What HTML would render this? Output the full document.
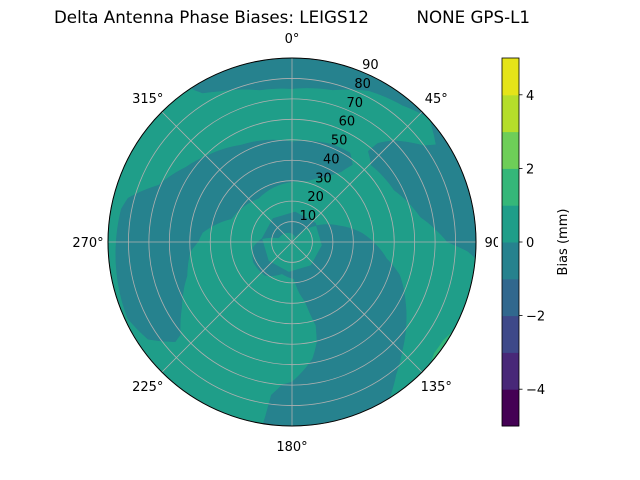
<!DOCTYPE html>
<html><head><meta charset="utf-8"><style>
body{margin:0;background:#fff;}
svg{display:block;font-family:"DejaVu Sans","Liberation Sans",sans-serif;}
</style></head><body>
<svg id="chart" width="640" height="480" viewBox="0 0 640 480" xmlns="http://www.w3.org/2000/svg">
<text x="292" y="23" font-size="16.7" text-anchor="middle" xml:space="preserve">Delta Antenna Phase Biases: LEIGS12         NONE GPS-L1</text>
<g id="plot"></g>
<g id="cbar"></g>
</svg>
<script>
const levels = [-5,-4,-3,-2,-1,0,1,2,3,4,5];
const levelColors = ["#440154","#482878","#3e4989","#31688e","#26828e","#1f9e89","#35b779","#6ece58","#b5de2b","#e5e419"];
const cbarTicks = [-4,-2,0,2,4];
const radialTicks = [10,20,30,40,50,60,70,80,90];
const angleTicks = [0,45,90,135,180,225,270,315];
const baseValue = 0.5;
// contour regions: [azimuth deg, radius] boundary points, with their bias value
const regionValues = [-0.5, -0.5, -0.5, -0.5, 1.5];
const regionTopBand = [[-33,90],[-33,89],[-31,85],[-26,82],[-12,76],[0,75],[15,77],[27,83],[39,86],[46,89.5],[47,90]];
const regionNE = [[49,90],[95,90],[93,86],[90,76],[79,64],[63,56],[46,54],[40,58],[41,64],[45,70],[54,80],[56,85],[50,89]];
const regionArcWest = [[35,42],[38,48],[33,52],[22,51.5],[0,49],[-28,53.6],[-44,59],[-55,63.6],[-67,71],[-75,83],[-79,85],[-90,86],[-109,88],[-115,88.6],[-124,85],[-130.5,75],[-129.7,71],[-121,63],[-108,54],[-95.5,50],[-90,46],[-84,44],[-69,31.7],[-37.6,26.9],[0,29.5],[15,31],[28,36]];
const regionCenterSouth = [[-84,14.8],[-73,6.8],[34,3],[55.6,13.9],[71,24.3],[83,34.7],[100,47],[107,55],[118,62.8],[126,68.9],[135,76],[142,82.5],[148,90],[189,90],[187.7,75.5],[184,70],[180,68.5],[170,58],[166,50.5],[164,42.4],[167.5,30],[172,24.8],[177,18],[197.5,16.3],[219,21],[242.5,21.3],[262.6,19],[276,14.8]];
const regionSliver = [[119,90],[131,90],[128,88.3],[123,88.3]];
const regions = [regionTopBand, regionNE, regionArcWest, regionCenterSouth, regionSliver];

const NS="http://www.w3.org/2000/svg";
const CX=292, CY=242, R=184, RMAX=90;
function px(az,r){const a=az*Math.PI/180, rr=Math.min(r,RMAX)/RMAX*R;return [CX+rr*Math.sin(a), CY-rr*Math.cos(a)];}
function colorFor(v){for(let i=0;i<levels.length-1;i++){if(v>=levels[i]&&v<levels[i+1])return levelColors[i];}return levelColors[levelColors.length-1];}
function mk(tag,attrs,parent){const e=document.createElementNS(NS,tag);for(const k in attrs)e.setAttribute(k,attrs[k]);parent.appendChild(e);return e;}
const plot=document.getElementById('plot');
const defs=mk('defs',{},plot);
const cp=mk('clipPath',{id:'clip'},defs);
mk('circle',{cx:CX,cy:CY,r:R},cp);
const base=mk('circle',{cx:CX,cy:CY,r:R,fill:colorFor(baseValue)},plot);


const rg=mk('g',{'clip-path':'url(#clip)'},plot);
regions.forEach((pts,k)=>{
  let d='';
  for(let i=0;i<pts.length;i++){
    const p=pts[i], q=pts[(i+1)%pts.length];
    for(let s=0;s<8;s++){const t=s/8;const [x,y]=px(p[0]+(q[0]-p[0])*t,p[1]+(q[1]-p[1])*t);d+=(d?'L':'M')+x.toFixed(1)+','+y.toFixed(1);}
  }
  const path=mk('path',{d:d+'Z',fill:colorFor(regionValues[k]),stroke:colorFor(regionValues[k]),'stroke-width':0.5},rg);
  
  
});
radialTicks.forEach(v=>{
  const c=mk('circle',{cx:CX,cy:CY,r:v/RMAX*R,fill:'none',stroke:'#b0b0b0','stroke-width':0.8},plot);
  
  
});
angleTicks.forEach(a=>{
  const [x,y]=px(a,RMAX);
  const l=mk('line',{x1:CX,y1:CY,x2:x,y2:y,stroke:'#b0b0b0','stroke-width':0.8},plot);
  
  
});
mk('circle',{cx:CX,cy:CY,r:R,fill:'none',stroke:'#000','stroke-width':1},plot);
angleTicks.forEach(a=>{
  const rad=a*Math.PI/180, D=204;
  const tx=CX+D*Math.sin(rad), ty=CY-D*Math.cos(rad);
  const t=mk('text',{x:tx,y:ty+5,'font-size':13,'text-anchor':'middle'},plot);
  t.textContent=a+'°';
  
  
});
radialTicks.forEach(v=>{
  const [x,y]=px(22.5,v);
  const t=mk('text',{x:x+8,y:y-3,'font-size':13,'text-anchor':'middle'},plot);
  t.textContent=v;
  
  
});
// colorbar
const cb=document.getElementById('cbar');
const CBX=502,CBW=17,CBT=58,CBB=426;
mk('rect',{x:CBX-4,y:CBT-2,width:CBW+8,height:CBB-CBT+4,fill:'#fff'},cb);
function cy(v){return CBB-(v-levels[0])/(levels[levels.length-1]-levels[0])*(CBB-CBT);}
for(let i=0;i<levels.length-1;i++){
  const r=mk('rect',{x:CBX,y:cy(levels[i+1]),width:CBW,height:cy(levels[i])-cy(levels[i+1])+0.5,fill:levelColors[i]},cb);
  
  
}
mk('rect',{x:CBX,y:CBT,width:CBW,height:CBB-CBT,fill:'none',stroke:'#000','stroke-width':0.8},cb);
cbarTicks.forEach(v=>{
  mk('line',{x1:CBX+CBW,y1:cy(v),x2:CBX+CBW+3.5,y2:cy(v),stroke:'#000','stroke-width':0.8},cb);
  const t=mk('text',{x:CBX+CBW+7,y:cy(v)+5,'font-size':13},cb);
  t.textContent=v<0?'\u2212'+Math.abs(v):String(v);
  
  
});
const lab=mk('text',{x:567,y:242,'font-size':13,'text-anchor':'middle',transform:'rotate(-90 567 242)'},cb);
lab.textContent='Bias (mm)';


</script>
</body></html>
